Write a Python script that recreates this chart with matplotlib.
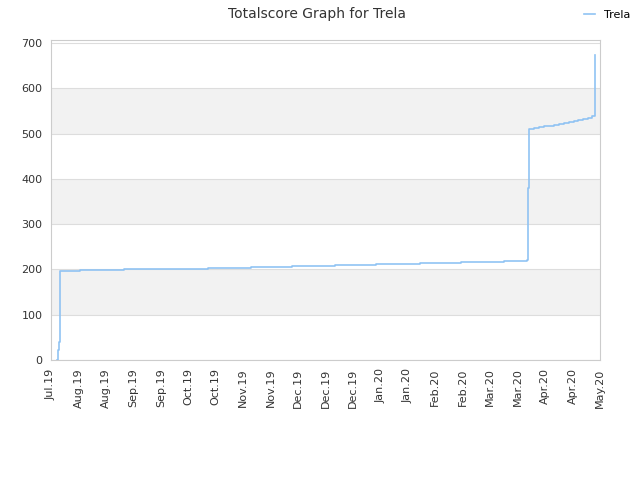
import matplotlib
matplotlib.use("Agg")
import matplotlib.pyplot as plt
import matplotlib.dates as mdates
import numpy as np
import pandas as pd

PLAYER = "Trela"
TITLE = "Totalscore Graph for Trela"

SCORE_DATES = [
    "2019-08-02 00:00", "2019-08-02 12:00", "2019-08-03 00:00", "2019-08-03 12:00",
    "2019-08-14 00:00", "2019-09-05 00:00", "2019-09-26 00:00", "2019-10-18 00:00",
    "2019-11-09 00:00", "2019-11-30 00:00", "2019-12-22 00:00", "2020-01-12 00:00",
    "2020-02-03 00:00", "2020-02-24 00:00", "2020-03-17 00:00", "2020-03-29 00:00",
    "2020-03-29 08:00",
    "2020-03-30 00:00", "2020-04-01 12:00", "2020-04-04 00:00", "2020-04-06 12:00",
    "2020-04-09 00:00", "2020-04-11 12:00", "2020-04-14 00:00", "2020-04-16 12:00",
    "2020-04-19 00:00", "2020-04-21 12:00", "2020-04-24 00:00", "2020-04-26 12:00",
    "2020-04-29 00:00", "2020-05-01 00:00",
    "2020-05-02 12:00", "2020-05-02 16:00",
]
SCORES = [
    0, 22, 40, 197,
    198, 200, 202, 204,
    206, 208, 210, 212,
    214, 216, 218, 221,
    380,
    510, 512, 514, 516,
    518, 520, 522, 524,
    526, 528, 530, 532,
    535, 538,
    542, 673,
]

X_START = "2019-07-30"
X_END = "2020-05-05"
TICK_LABELS = [
    "Jul.19", "Aug.19", "Aug.19", "Sep.19", "Sep.19", "Oct.19", "Oct.19",
    "Nov.19", "Nov.19", "Dec.19", "Dec.19", "Dec.19", "Jan.20", "Jan.20",
    "Feb.20", "Feb.20", "Mar.20", "Mar.20", "Apr.20", "Apr.20", "May.20",
]
Y_TICKS = [0, 100, 200, 300, 400, 500, 600, 700]

LINE_COLOR = "#90c3f3"
TEXT_COLOR = "#333333"


def main():
    dates = pd.to_datetime(SCORE_DATES, format="%Y-%m-%d %H:%M")
    figure = plt.figure(figsize=(6.4, 4.8), dpi=100)
    axis = figure.add_axes([0.0797, 0.25, 0.8578, 0.6667])

    x_min = mdates.date2num(pd.Timestamp(X_START))
    x_max = mdates.date2num(pd.Timestamp(X_END))
    y_max = 707

    # alternating horizontal bands
    for low in range(0, 700, 100):
        if (low // 100) % 2 == 1:
            axis.axhspan(low, low + 100, color="#f2f2f2", zorder=0, lw=0)
    for y in Y_TICKS:
        axis.axhline(y, color="#dddddd", lw=0.8, zorder=1)

    axis.plot(
        dates, SCORES, drawstyle="steps-post", color=LINE_COLOR,
        lw=1.2, label=PLAYER, zorder=3,
    )

    axis.set_xlim(x_min, x_max)
    axis.set_ylim(0, y_max)
    axis.set_yticks(Y_TICKS)
    axis.set_xticks(np.linspace(x_min, x_max, len(TICK_LABELS)))
    axis.set_xticklabels(TICK_LABELS, rotation=90)
    axis.tick_params(length=0, labelsize=8, colors=TEXT_COLOR, pad=6)
    for spine in axis.spines.values():
        spine.set_color("#cccccc")

    figure.suptitle(TITLE, x=0.495, y=0.985, fontsize=10, color=TEXT_COLOR)
    figure.legend(
        loc="upper right", bbox_to_anchor=(1.0, 1.0), frameon=False,
        fontsize=8, handlelength=1.0, handletextpad=0.8,
    )

    figure.savefig("out.png", dpi=100)
    plt.close(figure)


if __name__ == "__main__":
    main()
